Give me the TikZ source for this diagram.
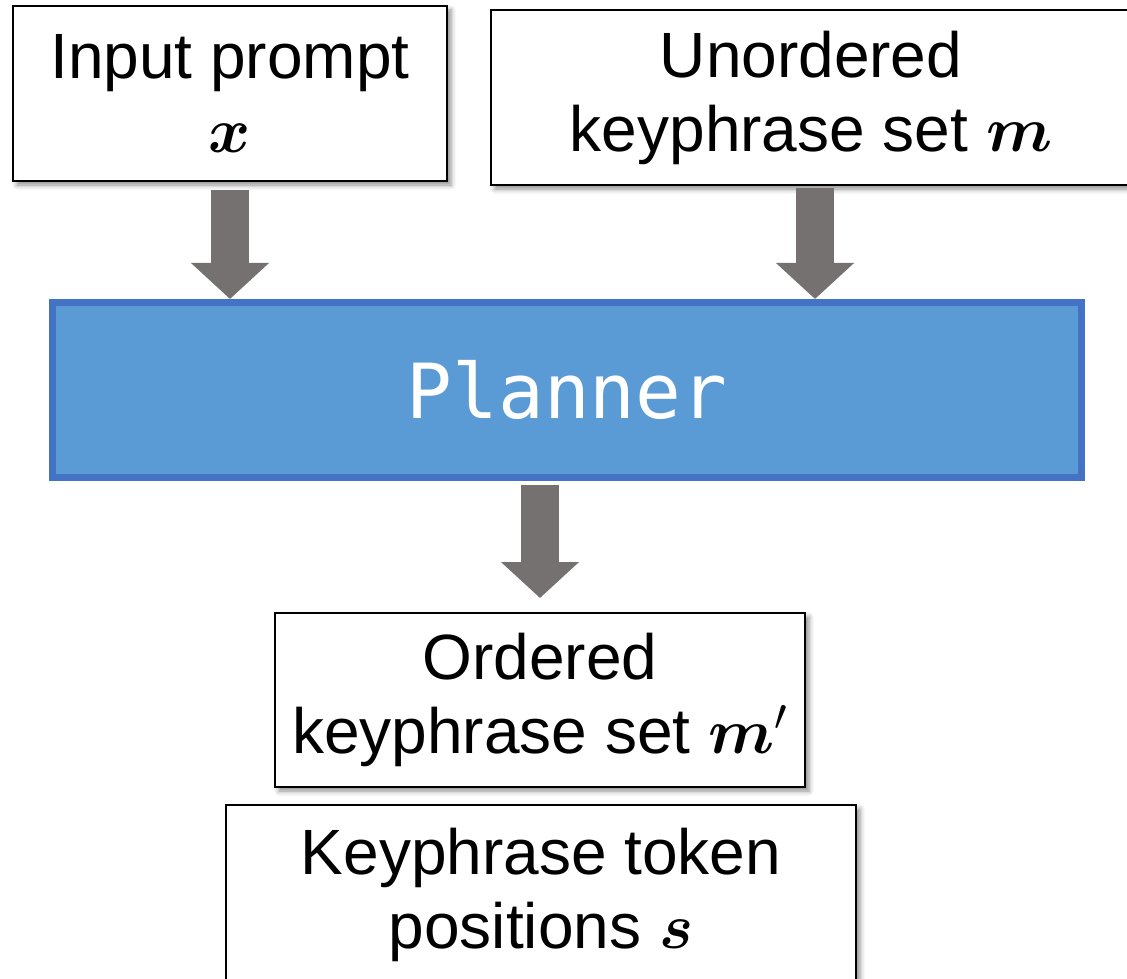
\documentclass[tikz,border=0pt]{standalone}
\usepackage{fix-cm}
\usepackage{fontspec}
\setmainfont{Liberation Sans}
\setmonofont{DejaVu Sans Mono}
\usepackage{bm}
\usetikzlibrary{arrows.meta,shadows.blur}
\definecolor{plannerfill}{HTML}{5B9BD5}
\definecolor{plannerdraw}{HTML}{4472C4}
\definecolor{arrowgray}{HTML}{767171}

\begin{document}
\begin{tikzpicture}[x=0.5pt,y=-0.5pt,
  every node/.style={font=\fontsize{32}{37}\selectfont},
  textbox/.style={draw=black,line width=1pt,fill=white,align=center,inner sep=0pt,
    blur shadow={shadow xshift=2pt,shadow yshift=-2pt,shadow blur radius=2.5pt,shadow opacity=45}},
  planbox/.style={draw=plannerdraw,fill=plannerfill,line width=3.5pt,text=white,
    font=\fontsize{38}{44}\selectfont\ttfamily},
  blockarrow/.style={arrowgray,line width=19pt,-{Triangle[length=18pt,width=38pt]}}]
  \useasboundingbox (0,0) rectangle (1127,978);
  \node[textbox,minimum width=217pt,minimum height=87.5pt] (prompt) at (230,93.5) {Input prompt\\$\bm{x}$};
  \node[textbox,minimum width=320pt,minimum height=87.5pt] (unordered) at (811,97.5) {Unordered\\keyphrase set $\bm{m}$};
  \node[planbox,minimum width=514.5pt,minimum height=87.5pt] (planner) at (567,390) {Planner};
  \node[textbox,minimum width=265pt,minimum height=87pt] (ordered) at (540,700) {Ordered\\keyphrase set $\bm{m}'$};
  \node[textbox,minimum width=315pt,minimum height=90pt] (tokens) at (541,895) {Keyphrase token\\positions $\bm{s}$};
  % block arrows
  \coordinate (a2top) at ([xshift=2pt]unordered.south);
  \coordinate (a3top) at (planner.south -| ordered.north);
  \draw[blockarrow] ([yshift=-4pt]prompt.south) -- (prompt.south |- planner.north);
  \draw[blockarrow] ([yshift=-1pt]a2top) -- (a2top |- planner.north);
  \draw[blockarrow] ([yshift=-2pt]a3top) -- ([yshift=7pt]ordered.north);
\end{tikzpicture}
\end{document}
